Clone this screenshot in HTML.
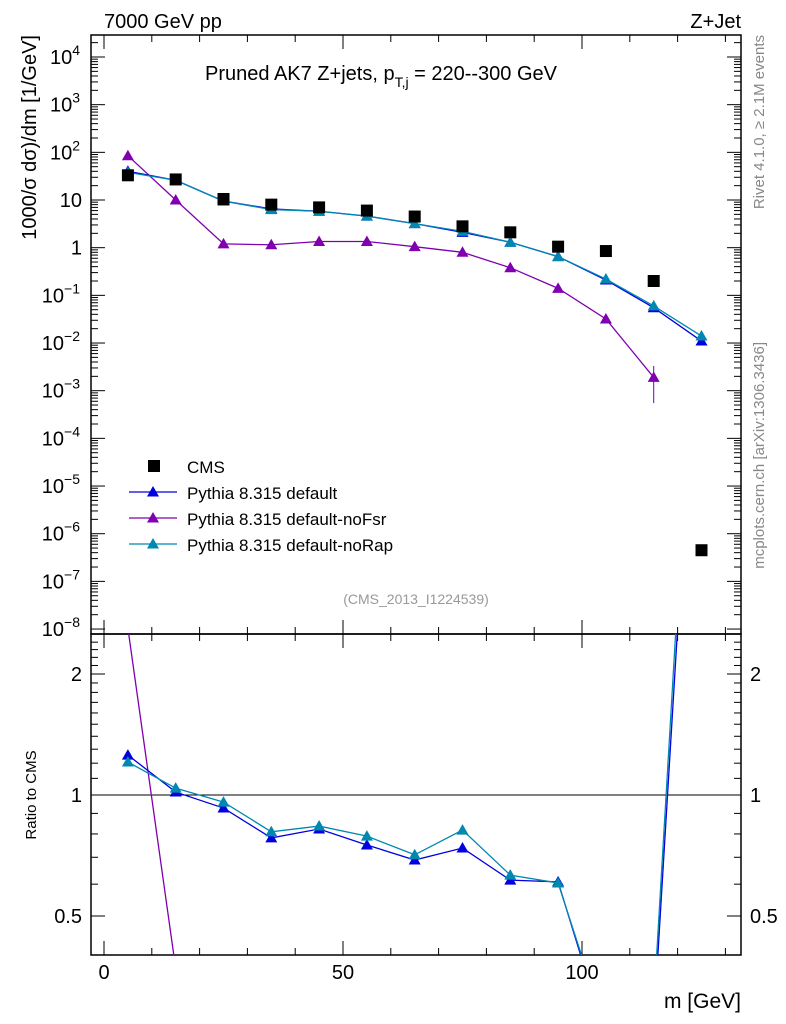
<!DOCTYPE html>
<html><head><meta charset="utf-8"><style>
html,body{margin:0;padding:0;background:#fff;overflow:hidden;width:786px;height:1024px}
svg{display:block;font-family:"Liberation Sans",sans-serif}
</style></head><body>
<svg id="c" width="786" height="1024" xmlns="http://www.w3.org/2000/svg"></svg>
<script>
const categories=[5,15,25,35,45,55,65,75,85,95,105,115,125];
const cmsValues=[33,27,10.5,8,7,6,4.5,2.8,2.1,1.05,0.85,0.2,4.5e-7];
const defaultValues=[40,26,9.5,6.5,5.8,4.6,3.2,2.1,1.3,0.65,0.21,0.055,0.011];
const noFsrValues=[85,10,1.2,1.15,1.35,1.35,1.05,0.8,0.38,0.14,0.032,0.0019];
const noRapValues=[38,26,9.5,6.3,5.8,4.6,3.2,2.2,1.3,0.65,0.22,0.06,0.014];
const defaultRatio=[1.257,1.017,0.928,0.782,0.823,0.751,0.689,0.738,0.614,0.608,0.25,0.27,25];
const noFsrRatio=[2.6,0.37,0.11,0.14,0.19,0.22,0.23,0.29,0.18,0.13,0.04,0.01];
const noRapRatio=[1.208,1.04,0.96,0.81,0.837,0.79,0.71,0.818,0.632,0.604,0.26,0.3,31];
const xTicks=[0,50,100];
const yTickExp=[-8,-7,-6,-5,-4,-3,-2,-1,0,1,2,3,4];
const yTickLabels=["10<tspan dy='-9' font-size='14'>−8</tspan>","10<tspan dy='-9' font-size='14'>−7</tspan>","10<tspan dy='-9' font-size='14'>−6</tspan>","10<tspan dy='-9' font-size='14'>−5</tspan>","10<tspan dy='-9' font-size='14'>−4</tspan>","10<tspan dy='-9' font-size='14'>−3</tspan>","10<tspan dy='-9' font-size='14'>−2</tspan>","10<tspan dy='-9' font-size='14'>−1</tspan>","1","10","10<tspan dy='-9' font-size='14'>2</tspan>","10<tspan dy='-9' font-size='14'>3</tspan>","10<tspan dy='-9' font-size='14'>4</tspan>"];
const ratioTicks=[0.5,1,2];

const L=91,R=741,T=35,M=634,B=955;
const xs=v=>104+(v-0)*4.78;
const ys=v=>57+(4-Math.log10(v))*47.67;
const yr=v=>795-Math.log2(v)*121;
const svg=document.getElementById('c');
const NS="http://www.w3.org/2000/svg";
function mk(tag,attrs,parent){const e=document.createElementNS(NS,tag);for(const k in attrs)e.setAttribute(k,attrs[k]);(parent||svg).appendChild(e);return e;}
svg.innerHTML=`<defs><clipPath id="cpm"><rect x="${L}" y="${T}" width="${R-L}" height="${M-T}"/></clipPath><clipPath id="cpr"><rect x="${L}" y="${M}" width="${R-L}" height="${B-M}"/></clipPath></defs>`;
let f=mk('rect',{x:L,y:T,width:R-L,height:M-T,fill:'none',stroke:'#000','stroke-width':1.5});

f=mk('rect',{x:L,y:M,width:R-L,height:B-M,fill:'none',stroke:'#000','stroke-width':1.5});

for(let v=0;v<=130;v+=10){const x=xs(v);const big=v%50===0;const l=big?14:7;
 for(const [y0,y1] of [[M,M-l],[T,T+l],[B,B-l],[M,M+l]]) mk('line',{x1:x,x2:x,y1:y0,y2:y1,stroke:'#000'});}
xTicks.forEach(v=>{const t=mk('text',{x:xs(v),y:979,'font-size':20,'text-anchor':'middle'});t.textContent=v;
});
yTickExp.forEach((e,i)=>{const y=ys(Math.pow(10,e));
 mk('line',{x1:L,x2:L+14,y1:y,y2:y,stroke:'#000'});mk('line',{x1:R,x2:R-14,y1:y,y2:y,stroke:'#000'});
 for(let m=2;m<10;m++){const yy=ys(m*Math.pow(10,e));if(yy>T){mk('line',{x1:L,x2:L+7,y1:yy,y2:yy,stroke:'#000'});mk('line',{x1:R,x2:R-7,y1:yy,y2:yy,stroke:'#000'});}}
 const t=mk('text',{x:(e>=2||e<0)?80:82,y:y+7,'font-size':20,'text-anchor':'end'});t.innerHTML=yTickLabels[i];
 
});
for(let v=0.4;v<=2.5;v+=0.1){const y=yr(v);if(y<M||y>B)continue;const big=ratioTicks.some(r=>Math.abs(r-v)<1e-6);const l=big?14:7;
 mk('line',{x1:L,x2:L+l,y1:y,y2:y,stroke:'#000'});mk('line',{x1:R,x2:R-l,y1:y,y2:y,stroke:'#000'});}
ratioTicks.forEach(v=>{const y=yr(v);let t=mk('text',{x:82,y:y+7,'font-size':20,'text-anchor':'end'});t.textContent=v;

t=mk('text',{x:750,y:y+7,'font-size':20,'text-anchor':'start'});t.textContent=v;
});
let rl=mk('line',{x1:L,x2:R,y1:yr(1),y2:yr(1),stroke:'#000'});

function series(vals,col,scale,clip,name){
 const g=mk('g',{'clip-path':`url(#${clip})`});
 
 const pts=vals.map((v,i)=>[xs(categories[i]),scale(v)]);
 mk('polyline',{points:pts.map(p=>p.join(',')).join(' '),fill:'none',stroke:col,'stroke-width':1.3},g);
 pts.forEach(p=>{const m=mk('path',{d:`M${p[0]},${p[1]-6}L${p[0]+6},${p[1]+4.5}L${p[0]-6},${p[1]+4.5}Z`,fill:col},g);
  });
}
series(noFsrValues,'#8000b0',ys,'cpm','series-nofsr');
series(defaultValues,'#0000e0',ys,'cpm','series-default');
series(noRapValues,'#0088b0',ys,'cpm','series-norap');
mk('line',{x1:xs(115),x2:xs(115),y1:ys(0.0033),y2:ys(0.00055),stroke:'#8000b0'});
cmsValues.forEach((v,i)=>{const r=mk('rect',{x:xs(categories[i])-6,y:ys(v)-6,width:12,height:12,fill:'#000'});
 });
series(noFsrRatio,'#8000b0',yr,'cpr','ratio-nofsr');
series(defaultRatio,'#0000e0',yr,'cpr','ratio-default');
series(noRapRatio,'#0088b0',yr,'cpr','ratio-norap');
const leg=[['CMS','#000',true],['Pythia 8.315 default','#0000e0'],['Pythia 8.315 default-noFsr','#8000b0'],['Pythia 8.315 default-noRap','#0088b0']];
leg.forEach((e,i)=>{const y=466+i*26;const g=mk('g',{});
 
 if(e[2])mk('rect',{x:148,y:y-6,width:12,height:12,fill:'#000'},g);
 else{mk('line',{x1:129,x2:177,y1:y,y2:y,stroke:e[1],'stroke-width':1.3},g);mk('path',{d:`M153,${y-6}L159,${y+4.5}L147,${y+4.5}Z`,fill:e[1]},g);}
 const t=mk('text',{x:187,y:y+7,'font-size':17},g);t.textContent=e[0];});
function txt(s,a,name){const t=mk('text',a);t.innerHTML=s;return t;}
txt('7000 GeV pp',{x:104,y:28,'font-size':20},'top-left-label');
txt('Z+Jet',{x:741,y:28,'font-size':20,'text-anchor':'end'},'top-right-label');
txt('Pruned AK7 Z+jets, p<tspan font-size="14" dy="7">T,j</tspan><tspan dy="-7"> = 220--300 GeV</tspan>',{x:205,y:80,'font-size':20},'plot-title');
txt('(CMS_2013_I1224539)',{x:416,y:604,'font-size':14,fill:'#999','text-anchor':'middle'},'analysis-id');
txt('m [GeV]',{x:741,y:1008,'font-size':21,'text-anchor':'end'},'x-axis-title');
txt('1000/σ  dσ)/dm [1/GeV]',{x:0,y:0,'font-size':20,'text-anchor':'end',transform:'translate(36,35) rotate(-90)'},'y-axis-title');
txt('Ratio to CMS',{x:0,y:0,'font-size':15,'text-anchor':'middle',transform:'translate(36,795) rotate(-90)'},'ratio-axis-title');
txt('Rivet 4.1.0, ≥ 2.1M events',{x:0,y:0,'font-size':15,fill:'#888','text-anchor':'end',transform:'translate(764,35) rotate(-90)'},'rivet-label');
txt('mcplots.cern.ch [arXiv:1306.3436]',{x:0,y:0,'font-size':15,fill:'#888','text-anchor':'end',transform:'translate(764,342) rotate(-90)'},'mcplots-label');
</script>
</body></html>
